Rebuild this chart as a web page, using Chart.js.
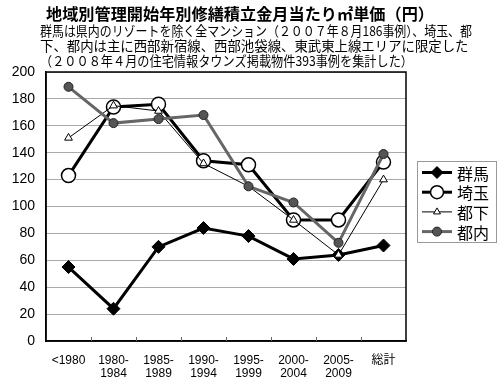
<!DOCTYPE html>
<html>
<head>
<meta charset="utf-8">
<script src="https://cdn.jsdelivr.net/npm/chart.js@4.4.1/dist/chart.umd.min.js"></script>
<style>
  html, body { margin: 0; padding: 0; background: #fff; }
  #wrap { width: 500px; height: 379px; }
</style>
</head>
<body>
<div id="wrap"><canvas id="c"></canvas></div>
<script>
const categories = [['<1980'], ['1980-', '1984'], ['1985-', '1989'], ['1990-', '1994'], ['1995-', '1999'], ['2000-', '2004'], ['2005-', '2009'], ['総計']]
const gunma = [55, 24, 70, 84, 78, 61, 64, 71]
const saitama = [123, 174, 176, 134, 131, 90, 90, 133]
const toka = [151, 175, 171, 132, 115, 90, 64, 120]
const tonai = [189, 162, 165, 168, 115, 103, 73, 139]
const yTicks = [0, 20, 40, 60, 80, 100, 120, 140, 160, 180, 200]

const titleText = '地域別管理開始年別修繕積立金月当たり㎡単価（円）'
const subtitleLines = [
  '群馬は県内のリゾートを除く全マンション（２００７年８月186事例）、埼玉、都',
  '下、都内は主に西部新宿線、西部池袋線、東武東上線エリアに限定した',
  '（２００８年４月の住宅情報タウンズ掲載物件393事例を集計した）'
]

const font = '"Liberation Sans", "Noto Sans CJK JP", sans-serif'
const jpFont = '"Noto Sans CJK JP", sans-serif'

// titles, frame around plot, inner x tick marks, hand drawn legend box
const decorations = {
  id: 'decorations',
  afterDraw(chart) {
    const {ctx, chartArea: a} = chart
    const xs = chart.scales.x
    ctx.save()
    ctx.fillStyle = '#000'
    ctx.textBaseline = 'middle'
    ctx.textAlign = 'center'
    ctx.font = 'bold 16.3px ' + jpFont
    ctx.fillText(titleText, 240, 14, 388)
    ctx.textAlign = 'left'
    ctx.font = '13.4px ' + jpFont
    const widths = [432, 430, 373]
    subtitleLines.forEach((line, i) => ctx.fillText(line, 40, 31 + i * 15, widths[i]))

    ctx.strokeStyle = '#000'
    ctx.lineWidth = 1.5
    ctx.strokeRect(a.left, a.top, a.right - a.left, a.bottom - a.top)

    // small tick marks between categories, pointing into the plot
    ctx.lineWidth = 1
    ctx.strokeStyle = '#666'
    for (let i = 1; i < categories.length; i++) {
      const x = Math.round((xs.getPixelForTick(i - 1) + xs.getPixelForTick(i)) / 2) + 0.5
      ctx.beginPath()
      ctx.moveTo(x, a.bottom)
      ctx.lineTo(x, a.bottom - 4)
      ctx.stroke()
    }

    const bx = 417, by = 161, bw = 79, bh = 81
    ctx.lineWidth = 1
    ctx.strokeStyle = '#999'
    ctx.strokeRect(bx + 0.5, by + 0.5, bw, bh)
    chart.data.datasets.forEach((ds, i) => {
      const y = by + 11.5 + i * 19.7
      ctx.strokeStyle = ds.borderColor
      ctx.lineWidth = ds.borderWidth
      ctx.beginPath()
      ctx.moveTo(422, y)
      ctx.lineTo(452, y)
      ctx.stroke()
      ctx.fillStyle = ds.pointBackgroundColor
      ctx.strokeStyle = ds.pointBorderColor
      ctx.lineWidth = ds.pointBorderWidth
      Chart.helpers.drawPoint(ctx, {pointStyle: ds.pointStyle, radius: ds.legendRadius, borderWidth: ds.pointBorderWidth}, 437, y)
      ctx.fillStyle = '#000'
      ctx.font = '16px ' + jpFont
      ctx.textAlign = 'left'
      ctx.fillText(ds.label, 457, y + 1)
    })
    ctx.restore()
  }
}

new Chart(document.getElementById('c'), {
  type: 'line',
  data: {
    labels: categories,
    datasets: [
      {label: '群馬', data: gunma, order: 4, borderColor: '#000', borderWidth: 3,
       pointStyle: 'rectRot', pointRadius: 6.5, legendRadius: 6, pointBackgroundColor: '#000',
       pointBorderColor: '#000', pointBorderWidth: 1},
      {label: '埼玉', data: saitama, order: 3, borderColor: '#000', borderWidth: 3,
       pointStyle: 'circle', pointRadius: 7, legendRadius: 6.5, pointBackgroundColor: '#fff',
       pointBorderColor: '#000', pointBorderWidth: 1.5},
      {label: '都下', data: toka, order: 2, borderColor: '#000', borderWidth: 1,
       pointStyle: 'triangle', pointRadius: 4.5, legendRadius: 4, pointBackgroundColor: '#fff',
       pointBorderColor: '#000', pointBorderWidth: 1},
      {label: '都内', data: tonai, order: 1, borderColor: '#666', borderWidth: 3,
       pointStyle: 'circle', pointRadius: 4.5, legendRadius: 4.5, pointBackgroundColor: '#555',
       pointBorderColor: '#222', pointBorderWidth: 1}
    ]
  },
  options: {
    responsive: true,
    maintainAspectRatio: false,
    animation: false,
    layout: {padding: {top: 72, left: 0, right: 0, bottom: 0}},
    plugins: {
      legend: {display: false},
      tooltip: {enabled: false}
    },
    scales: {
      x: {
        offset: true,
        grid: {display: false, drawTicks: false},
        border: {color: '#000', width: 1.5},
        ticks: {color: '#000', font: {family: font, size: 12, lineHeight: 1.1}, padding: 13, maxRotation: 0, autoSkip: false},
        afterFit: s => { s.height = 38 }
      },
      y: {
        min: 0, max: 200,
        afterBuildTicks: s => { s.ticks = yTicks.map(v => ({value: v})) },
        grid: {color: '#aaa', lineWidth: 1, drawTicks: false},
        border: {color: '#000', width: 1.5},
        ticks: {color: '#000', font: {family: font, size: 14}, padding: 11},
        afterFit: s => { s.width = 46 }
      },
      // empty right axis, only reserves room for the legend box
      y2: {
        position: 'right',
        grid: {display: false},
        border: {display: false},
        ticks: {display: false},
        afterFit: s => { s.width = 94 }
      }
    }
  },
  plugins: [decorations]
})
</script>
</body>
</html>
